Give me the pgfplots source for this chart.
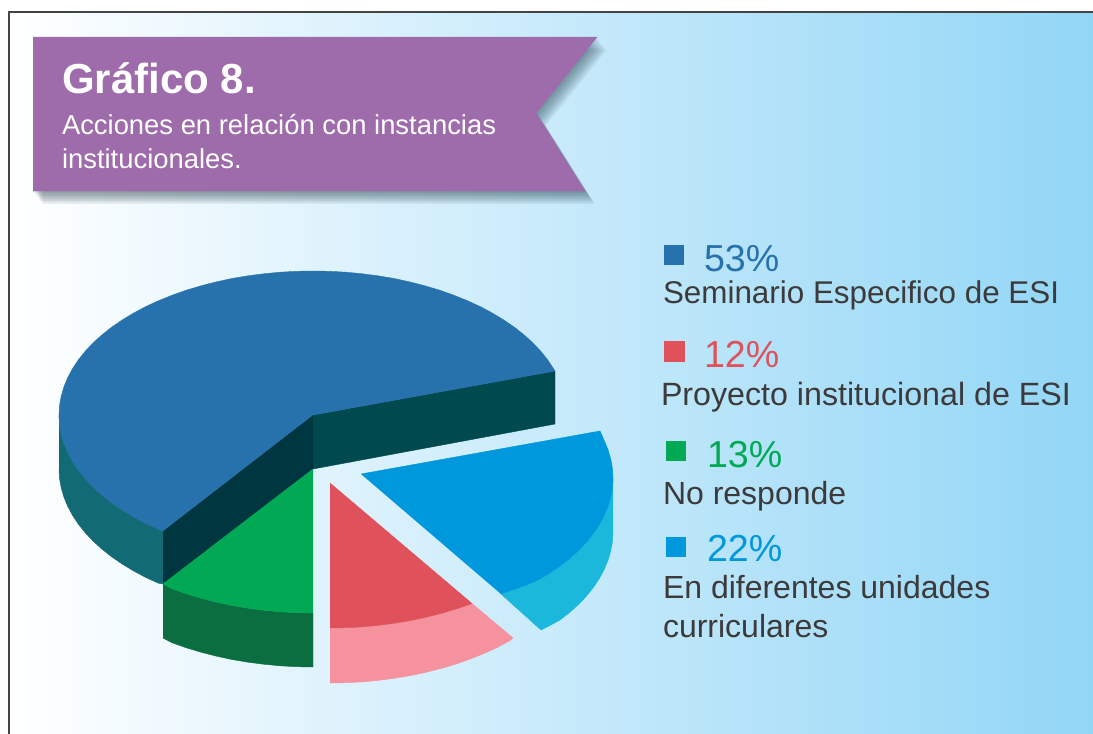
\documentclass[border=0pt]{standalone}
\usepackage{pgfplots}
\pgfplotsset{compat=1.18}
\usepackage{pgfplotstable}
\usepackage{fontspec}
\setmainfont{Liberation Sans}

\definecolor{bannerc}{HTML}{9E6BAB}
\definecolor{shadowc}{HTML}{2F4A55}
\definecolor{framec}{HTML}{444444}
\definecolor{bgmid}{HTML}{CDEEFB}
\definecolor{bgright}{HTML}{92D6F6}
\definecolor{mainc}{HTML}{2772AD}
\definecolor{mainwall}{HTML}{126A75}
\definecolor{innerA}{HTML}{00363F}
\definecolor{innerB}{HTML}{00494F}
\definecolor{greenc}{HTML}{02A955}
\definecolor{greenwall}{HTML}{0B6E40}
\definecolor{redc}{HTML}{DF525C}
\definecolor{pinkc}{HTML}{F6919E}
\definecolor{bluec}{HTML}{0098DC}
\definecolor{bluewall}{HTML}{1CB8DB}
\definecolor{textc}{HTML}{3C3A3A}

\tikzset{
  poly/.style={fill=#1,draw=#1,line width=.2pt},
  bshadow/.style={fill=shadowc,draw=none,fill opacity=.085,xshift=#1*.6pt,yshift=-#1*.8pt},
  txt/.style={anchor=base west,inner sep=0pt,outer sep=0pt},
  big/.style={txt,font=\fontsize{18.8}{18.8}\selectfont},
  body/.style={txt,text=textc,font=\fontsize{16}{16}\selectfont},
  sub/.style={txt,text=white,font=\fontsize{13.7}{13.7}\selectfont},
}

\pgfplotstableread{
x y
33 37
597 37
536 113
585 191
33 191
}\banner

\begin{document}
\begin{tikzpicture}
\begin{axis}[
  scale only axis,
  width=546.5pt,
  height=367pt,
  xmin=0, xmax=1093,
  ymin=0, ymax=734,
  y dir=reverse,
  hide axis,
]
% background
\addplot[fill=white,draw=none] coordinates {(0,0) (1093,0) (1093,734) (0,734)};
\addplot[draw=none,left color=white,middle color=bgmid,right color=bgright] coordinates {(10,12) (1093,12) (1093,734) (10,734)};
\addplot[framec,line width=1pt] coordinates {(9,734) (9,12) (1093,12)};

% banner with its shadow
\addplot[bshadow=8] table {\banner};
\addplot[bshadow=7] table {\banner};
\addplot[bshadow=6] table {\banner};
\addplot[bshadow=5] table {\banner};
\addplot[bshadow=4] table {\banner};
\addplot[bshadow=3] table {\banner};
\addplot[bshadow=2] table {\banner};
\addplot[bshadow=1] table {\banner};
\addplot[poly=bannerc] table {\banner};

% main slice, walls
\addplot[poly=mainwall] coordinates {(59,415) (59.5,424.4) (61.2,433.8) (63.9,443.1) (67.7,452.3) (72.5,461.3) (78.3,470.1) (85.2,478.7) (93,487) (101.8,495) (111.5,502.7) (122,509.9) (133.4,516.8) (145.5,523.3) (158.4,529.2) (163,531)
  (163,584) (158.4,583.2) (145.5,577.3) (133.4,570.8) (122,563.9) (111.5,556.7) (101.8,549) (93,541) (85.2,532.7) (78.3,524.1) (72.5,515.3) (67.7,506.3) (63.9,497.1) (61.2,487.8) (59.5,478.4) (59,469)};
\addplot[poly=innerA] coordinates {(163,531) (313,415) (313,469) (163,584)};
\addplot[poly=innerB] coordinates {(313,415) (555,371) (555,424) (313,469)};
% main slice, top
\addplot[poly=mainc] coordinates {(313,415) (555,371) (553.5,368.7) (547.7,359.9) (540.8,351.3) (533,343) (524.2,335) (514.5,327.3) (504,320.1) (492.6,313.2) (480.5,306.7) (467.6,300.8) (454.1,295.3) (440,290.3) (425.3,285.9) (410.2,282) (394.6,278.6) (378.7,275.9) (362.6,273.8) (346.1,272.2) (329.6,271.3)
  (313,271) (296.4,271.3) (279.9,272.2) (263.4,273.8) (247.3,275.9) (231.4,278.6) (215.8,282) (200.7,285.9) (186,290.3) (171.9,295.3) (158.4,300.8) (145.5,306.7) (133.4,313.2) (122,320.1) (111.5,327.3) (101.8,335) (93,343) (85.2,351.3) (78.3,359.9) (72.5,368.7) (67.7,377.7) (63.9,386.9) (61.2,396.2) (59.5,405.6)
  (59,415) (59.5,424.4) (61.2,433.8) (63.9,443.1) (67.7,452.3) (72.5,461.3) (78.3,470.1) (85.2,478.7) (93,487) (101.8,495) (111.5,502.7) (122,509.9) (133.4,516.8) (145.5,523.3) (158.4,529.2) (163,531)};

% green slice
\addplot[poly=greenwall] coordinates {(163,584) (171.9,588.7) (186,593.7) (200.7,598.1) (215.8,602) (231.4,605.4) (247.3,608.1) (263.4,610.2) (279.9,611.8) (296.4,612.7) (313,613)
  (313,667) (296.4,666.7) (279.9,665.8) (263.4,664.2) (247.3,662.1) (231.4,659.4) (215.8,656) (200.7,652.1) (186,647.7) (171.9,642.7) (163,638)};
\addplot[poly=greenc] coordinates {(313,469) (163,584) (171.9,588.7) (186,593.7) (200.7,598.1) (215.8,602) (231.4,605.4) (247.3,608.1) (263.4,610.2) (279.9,611.8) (296.4,612.7) (313,613)};

% red slice
\addplot[poly=pinkc] coordinates {(330,628) (346.6,627.7) (363.1,626.8) (379.6,625.2) (395.7,623.1) (411.4,620.4) (427.2,617) (442.3,613.1) (457,608.7) (472,603.5)
  (513,638) (509.6,640.8) (497.5,647.3) (484.6,653.2) (471.1,658.7) (457,663.7) (442.3,668.1) (427.2,672) (411.4,675.4) (395.7,678.1) (379.6,680.2) (363.1,681.8) (346.6,682.7) (330,683)};
\addplot[poly=redc] coordinates {(330,483) (472,603.5) (457,608.7) (442.3,613.1) (427.2,617) (411.4,620.4) (395.7,623.1) (379.6,625.2) (363.1,626.8) (346.6,627.7) (330,628)};

% blue slice
\addplot[poly=bluewall] coordinates {(613,478) (612.5,487.4) (610.8,496.8) (608.1,506.1) (604.3,515.3) (599.5,524.3) (593.7,533.1) (586.8,541.7) (579,550) (570.2,558) (560.5,565.7) (550,572.9) (538.6,579.8) (526.5,585) (513.6,589.5) (501,594)
  (541,630) (550,625.5) (560.5,619.7) (570.2,612) (579,604) (586.8,595.7) (593.7,587.1) (599.5,578.3) (604.3,569.3) (608.1,560.1) (610.8,550.8) (612.5,541.4) (613,532)};
\addplot[poly=bluec] coordinates {(361,474) (600,431) (604.3,440.7) (608.1,449.9) (610.8,459.2) (612.5,468.6) (613,478) (612.5,487.4) (610.8,496.8) (608.1,506.1) (604.3,515.3) (599.5,524.3) (593.7,533.1) (586.8,541.7) (579,550) (570.2,558) (560.5,565.7) (550,572.9) (538.6,579.8) (526.5,585) (513.6,589.5) (501,594)};

% legend squares
\addplot[only marks,mark=square*,mark size=4.85pt,mark options={fill=mainc,draw=mainc,line width=0pt}] coordinates {(674,255)};
\addplot[only marks,mark=square*,mark size=4.85pt,mark options={fill=redc,draw=redc,line width=0pt}] coordinates {(674.5,351.5)};
\addplot[only marks,mark=square*,mark size=4.85pt,mark options={fill=greenc,draw=greenc,line width=0pt}] coordinates {(676,451)};
\addplot[only marks,mark=square*,mark size=4.85pt,mark options={fill=bluec,draw=bluec,line width=0pt}] coordinates {(676,547)};

% banner text
\node[txt,text=white,font=\fontsize{21}{21}\selectfont\bfseries] at (axis cs:62,93) {Gráfico 8.};
\node[sub] at (axis cs:62,134) {Acciones en relación con instancias};
\node[sub] at (axis cs:62,168) {institucionales.};

% legend text
\node[big,text=mainc] at (axis cs:704,271) {53\%};
\node[body,font=\fontsize{15.7}{15.7}\selectfont] at (axis cs:663,303) {Seminario Especifico de ESI};
\node[big,text=redc] at (axis cs:704,367) {12\%};
\node[body,font=\fontsize{16.1}{16.1}\selectfont] at (axis cs:661,405) {Proyecto institucional de ESI};
\node[big,text=greenc] at (axis cs:707,467) {13\%};
\node[body] at (axis cs:663,504) {No responde};
\node[big,text=bluec] at (axis cs:707,561) {22\%};
\node[body] at (axis cs:663,598) {En diferentes unidades};
\node[body] at (axis cs:663,637) {curriculares};
\end{axis}
\end{tikzpicture}
\end{document}
